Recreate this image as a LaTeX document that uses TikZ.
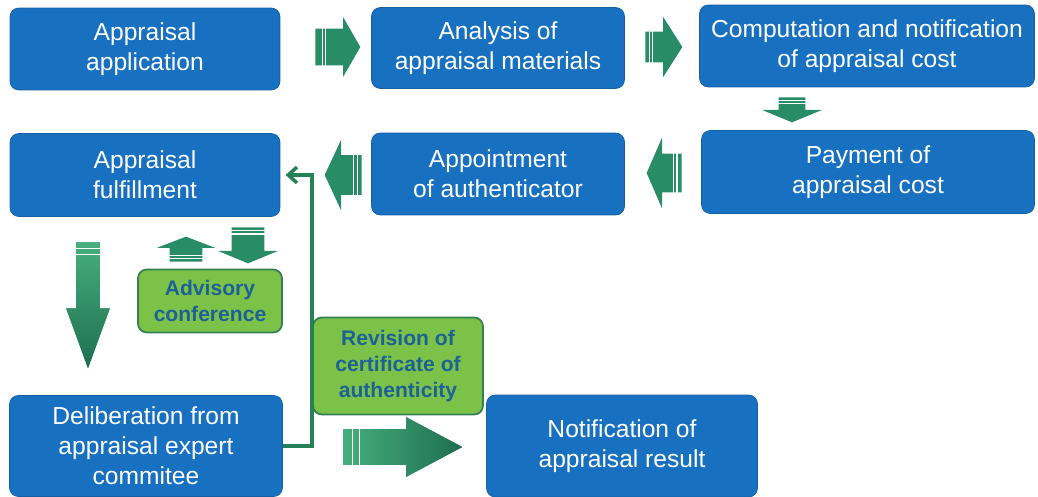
\documentclass[tikz,border=0pt]{standalone}
\usepackage{fontspec}
\setmainfont{Liberation Sans}
\usetikzlibrary{shapes.arrows,calc,arrows.meta}
\definecolor{boxblue}{RGB}{24,112,192}
\definecolor{arrowgreen}{RGB}{40,140,102}
\definecolor{arrowdark}{RGB}{30,110,80}
\definecolor{arrowlight}{RGB}{70,175,125}
\definecolor{notegreen}{RGB}{124,194,72}
\definecolor{noteborder}{RGB}{52,128,84}
\definecolor{notetext}{RGB}{28,98,150}
\definecolor{linkgreen}{RGB}{38,130,86}
\begin{document}
\begin{tikzpicture}[x=0.02cm,y=-0.02cm,
	stepbox/.style={rounded corners=5pt,fill=boxblue,draw=boxblue!85!black,text=white,align=center,inner sep=0pt,font=\fontsize{14}{17}\selectfont},
	notebox/.style={rounded corners=5pt,fill=notegreen,draw=noteborder,line width=1pt,text=notetext,align=center,inner sep=0pt,font=\bfseries\fontsize{12}{15}\selectfont},
	flowarrow/.style={single arrow,fill=arrowgreen,inner sep=0pt,anchor=tail,single arrow head indent=0pt},
	stripe/.style={white,line width=0.7pt},
	link/.style={draw=linkgreen,line width=2pt,-{Straight Barb[length=5pt,width=9pt]},shorten >=3pt}]

	\useasboundingbox (0,0) rectangle (1038,497);

	\node[stepbox,minimum width=5.4cm,minimum height=1.64cm] (apply) at (145,49) {Appraisal\\application};
	\node[stepbox,minimum width=5.06cm,minimum height=1.62cm] (analyse) at (498,48) {Analysis of\\appraisal materials};
	\node[stepbox,minimum width=6.7cm,minimum height=1.64cm] (compute) at (867,46) {Computation and notification\\of appraisal cost};
	\node[stepbox,minimum width=6.66cm,minimum height=1.66cm] (pay) at (868,172) {Payment of\\appraisal cost};
	\node[stepbox,minimum width=5.06cm,minimum height=1.64cm] (appoint) at (498,174) {Appointment\\of authenticator};
	\node[stepbox,minimum width=5.4cm,minimum height=1.66cm] (fulfil) at (145,175) {Appraisal\\fulfillment};
	\node[stepbox,minimum width=5.46cm,minimum height=2.02cm] (delib) at (146,446) {Deliberation from\\appraisal expert\\commitee};
	\node[stepbox,minimum width=5.42cm,minimum height=2.04cm] (result) at (622,446) {Notification of\\appraisal result};

	\node[notebox,minimum width=2.88cm,minimum height=1.26cm] (advice) at (210,301) {Advisory\\conference};
	\node[notebox,minimum width=3.4cm,minimum height=1.94cm] (revise) at (398,366) {Revision of\\certificate of\\authenticity};

	\node[flowarrow,minimum height=0.9cm,inner ysep=0.36cm,single arrow head extend=0.23cm,single arrow tip angle=120] (ar1) at (315,47) {};
	\node[flowarrow,minimum height=0.74cm,inner ysep=0.3cm,single arrow head extend=0.3cm,single arrow tip angle=115] (ar2) at (645,47) {};
	\node[flowarrow,shape border rotate=270,minimum height=0.5cm,inner xsep=0.26cm,single arrow head extend=0.33cm,single arrow tip angle=135] (ar3) at (792,97) {};
	\node[flowarrow,shape border rotate=180,minimum height=0.7cm,inner ysep=0.38cm,single arrow head extend=0.32cm,single arrow tip angle=133] (ar4) at (682,173) {};
	\node[flowarrow,shape border rotate=180,minimum height=0.74cm,inner ysep=0.39cm,single arrow head extend=0.31cm,single arrow tip angle=130] (ar5) at (362,175) {};
	\node[flowarrow,shape border rotate=90,minimum height=0.5cm,inner xsep=0.32cm,single arrow head extend=0.26cm,single arrow tip angle=138] (ar6) at (186,262) {};
	\node[flowarrow,shape border rotate=270,minimum height=0.72cm,inner xsep=0.32cm,single arrow head extend=0.28cm,single arrow tip angle=135] (ar7) at (248,227) {};
	\node[flowarrow,shape border rotate=270,top color=arrowlight,bottom color=arrowdark,minimum height=2.52cm,inner xsep=0.23cm,single arrow head extend=0.2cm,single arrow tip angle=40] (ar8) at (88,242) {};
	\node[flowarrow,left color=arrowlight,right color=arrowdark,minimum height=2.38cm,inner ysep=0.35cm,single arrow head extend=0.24cm,single arrow tip angle=56] (ar9) at (343,447) {};

	\foreach \a/\p/\q in {ar1/.16/.23,ar2/.12/.2,ar3/.14/.26,ar4/.14/.24,ar5/.12/.22,ar6/.14/.26,ar7/.1/.19,ar8/.05/.1,ar9/.08/.14}{
		\draw[stripe] ($(\a.before tail)+\p*(\a.tip)-\p*(\a.tail)$) -- ($(\a.after tail)+\p*(\a.tip)-\p*(\a.tail)$);
		\draw[stripe] ($(\a.before tail)+\q*(\a.tip)-\q*(\a.tail)$) -- ($(\a.after tail)+\q*(\a.tip)-\q*(\a.tail)$);
	}

	\draw[link] (delib.east) -- ++(29,0) |- (fulfil.east);
\end{tikzpicture}
\end{document}
